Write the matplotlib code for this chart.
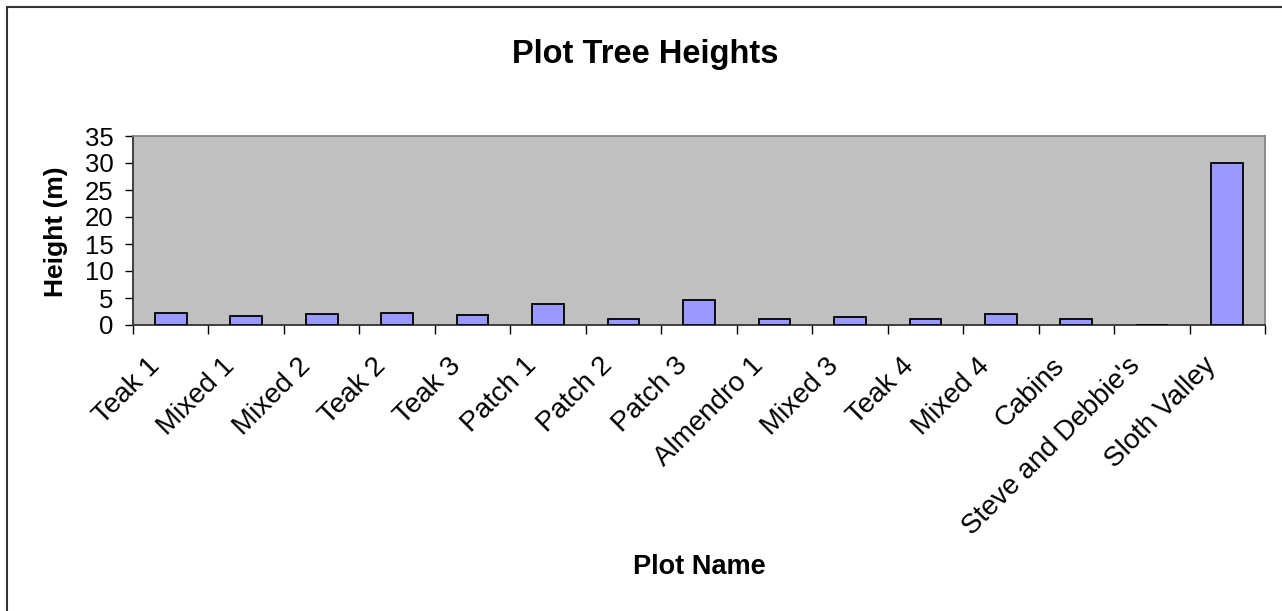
import numpy as np
import matplotlib
matplotlib.use("Agg")
import matplotlib.pyplot as plt
from matplotlib.patches import Rectangle

plt.rcParams['font.family'] = ['Liberation Sans', 'DejaVu Sans']

plots = ["Teak 1", "Mixed 1", "Mixed 2", "Teak 2", "Teak 3", "Patch 1", "Patch 2",
         "Patch 3", "Almendro 1", "Mixed 3", "Teak 4", "Mixed 4", "Cabins",
         "Steve and Debbie's", "Sloth Valley"]
heights = [2.3, 1.6, 2.0, 2.3, 1.9, 3.9, 1.1, 4.6, 1.1, 1.5, 1.1, 2.0, 1.1, 0, 30]
yticks = [0, 5, 10, 15, 20, 25, 30, 35]

W, H = 1282, 611
fig = plt.figure(figsize=(W / 100, H / 100), dpi=100)
ax = fig.add_axes([133 / W, 1 - 325 / H, (1265 - 133) / W, (325 - 136) / H])
ax.set_facecolor('#C0C0C0')

x = np.arange(len(plots))
ax.bar(x, heights, width=0.42, color='#9999FF', edgecolor='black', linewidth=1.3, zorder=3)

ax.set_xlim(-0.5, len(plots) - 0.5)
ax.set_ylim(0, 35)
ax.set_yticks(yticks)
ax.set_yticklabels([str(v) for v in yticks], fontsize=18.5)

# category labels (invisible major ticks nudged a little left so the
# rotated text ends just before the centre), tick marks on the boundaries
ax.set_xticks(x - 0.08)
ax.set_xticklabels(plots, rotation=45, ha='right', va='top', fontsize=20)
ax.set_xticks(np.arange(len(plots) + 1) - 0.5, minor=True)
ax.tick_params(axis='x', which='major', length=0, pad=20)
ax.tick_params(axis='x', which='minor', length=6.5, width=1, direction='out', color='black')
ax.tick_params(axis='y', length=6, width=1, direction='out', pad=8, color='black')

for side in ('top', 'right'):
    ax.spines[side].set_color('#808080')
    ax.spines[side].set_linewidth(1.2)
for side in ('left', 'bottom'):
    ax.spines[side].set_color('#333333')
    ax.spines[side].set_linewidth(1.3)

fig.text(645 / W, 1 - 63 / H, "Plot Tree Heights", ha='center', va='baseline',
         fontsize=23.5, fontweight='bold')
fig.text(56 / W, 1 - 232 / H, "Height (m)", ha='center', va='center', rotation=90,
         fontsize=19, fontweight='bold')
fig.text(699 / W, 1 - 574 / H, "Plot Name", ha='center', va='baseline',
         fontsize=19.5, fontweight='bold')

# chart frame
fig.patches.append(Rectangle((7 / W, -0.2), 1.2, 1.2 - 7 / H, transform=fig.transFigure,
                             fill=False, edgecolor='#333333', linewidth=1.5))

fig.savefig("out.png", dpi=100)
